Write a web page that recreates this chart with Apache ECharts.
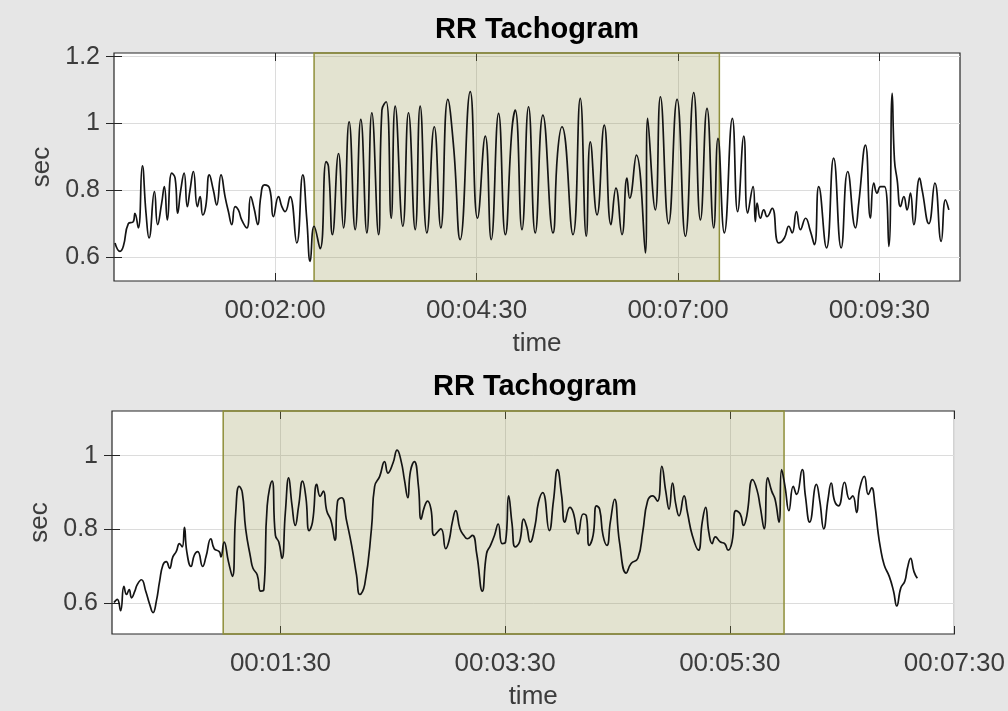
<!DOCTYPE html>
<html>
<head>
<meta charset="utf-8">
<script src="https://cdn.jsdelivr.net/npm/echarts@6/dist/echarts.min.js"></script>
<style>
html,body{margin:0;padding:0;background:#e6e6e6;}
#c{width:1008px;height:711px;}
</style>
</head>
<body>
<div id="c"></div>
<script>
// ---------- data (time in seconds, RR interval in sec) ----------
const topRR = [
[0.75,0.642],[4.47,0.617],[6.95,0.632],[10.68,0.70],[14.4,0.706],[15.6,0.731],[18.1,0.687],[21.1,0.873],
[23.85,0.731],[26.1,0.657],[30.1,0.796],[32.5,0.697],[35.5,0.761],[37.5,0.811],[39.7,0.711],[43,0.851],
[45.5,0.836],[47.4,0.731],[49.7,0.80],[52.2,0.851],[54.6,0.751],[56.6,0.80],[59.1,0.856],[62.1,0.751],
[64.1,0.781],[66.1,0.726],[68.3,0.751],[71,0.846],[74,0.80],[76.5,0.756],[79.7,0.846],[82.7,0.781],
[85.2,0.736],[87.7,0.697],[90.2,0.751],[92.6,0.741],[95.1,0.711],[98.9,0.687],[101.8,0.781],[104.3,0.746],
[107.1,0.697],[109.3,0.781],[112,0.816],[115.8,0.806],[118.7,0.721],[122.5,0.781],[125,0.751],[127.4,0.736],
[131.1,0.781],[136.1,0.642],[140.6,0.846],[143.6,0.711],[146.1,0.587],[149.0,0.692],[153.5,0.625],
[158,0.886],[159.7,0.871],[162.7,0.667],[167.2,0.91],[170.9,0.687],[175.1,1.005],[179.6,0.682],[183.8,1.012],
[188.3,0.672],[192.0,1.032],[197.0,0.667],[199.5,1.04],[202.7,1.065],[206.4,0.716],[209.4,1.052],[215.1,0.692],
[219.3,1.032],[224.3,0.682],[228.0,1.052],[233.0,0.672],[238.5,0.99],[243.4,0.687],[248.6,1.072],[252.9,0.93],
[257.8,0.652],[265.3,1.095],[270.7,0.716],[276.5,0.962],[280.9,0.652],[286.4,1.03],[291.4,0.667],[296.3,0.98],
[298.8,1.04],[303.8,0.682],[308.7,1.05],[313.7,0.672],[319.4,1.025],[326.9,0.672],[330.3,0.91],[333.6,0.99],
[341.8,0.667],[347.2,1.075],[351.7,0.662],[354.7,0.945],[359.7,0.726],[365.1,0.995],[370.1,0.697],[373.8,0.806],
[378.3,0.667],[382.0,0.836],[384.0,0.776],[389.0,0.905],[395.7,0.612],[397.4,1.015],[403.1,0.741],[406.9,1.08],
[413.0,0.70],[419.3,1.072],[425.5,0.662],[431.7,1.092],[436.7,0.711],[441.6,1.045],[446.6,0.687],[449.8,0.955],
[454.5,0.672],[460.5,1.015],[464.4,0.736],[469.0,0.962],[471.9,0.731],[475.9,0.811],[477.6,0.706],[478.9,0.761],
[481.4,0.716],[483.9,0.741],[486.3,0.721],[490.1,0.746],[495.0,0.642],[499.2,0.657],[502.5,0.692],[505.0,0.672],
[508.2,0.736],[511.2,0.682],[515.0,0.716],[518.6,0.677],[521.6,0.637],[524.8,0.811],[530.6,0.627],[535.9,0.896],
[541.5,0.627],[546.4,0.856],[552.2,0.687],[554.6,0.761],[559.6,0.935],[563.3,0.716],[565.8,0.821],[568.3,0.791],
[570.8,0.811],[573.8,0.811],[577.0,0.632],[579.5,1.09],[581.2,0.89],[583.2,0.831],[585.7,0.751],[588.2,0.781],
[590.6,0.741],[593.1,0.791],[595.6,0.697],[599.9,0.836],[601.8,0.80],[606.8,0.70],[611.3,0.821],[616.0,0.647],
[619.2,0.771],[621.7,0.741]
];
const bottomRR = [
[1.06,0.602],[2.83,0.611],[4.6,0.58],[6.36,0.646],[7.78,0.624],[9.19,0.637],[10.43,0.615],[12.2,0.633],
[13.43,0.65],[15.7,0.664],[18.03,0.633],[20.15,0.597],[21.92,0.575],[23.69,0.606],[25.45,0.66],[27.2,0.704],
[29,0.713],[30.75,0.695],[32.5,0.726],[34.3,0.74],[36.05,0.762],[37.5,0.753],[38.7,0.806],[39.95,0.74],
[42.2,0.70],[44,0.731],[45.8,0.74],[48.4,0.70],[50.2,0.726],[52.8,0.775],[54.6,0.748],[57.3,0.74],
[58.2,0.726],[59.9,0.766],[62.2,0.713],[64.3,0.673],[66.1,0.846],[67.9,0.917],[69.6,0.90],[71.4,0.802],
[74.1,0.722],[75.3,0.695],[77.6,0.677],[79.4,0.633],[81.1,0.637],[82.9,0.864],[85.5,0.931],[87.3,0.784],
[89.1,0.766],[90.8,0.722],[92.6,0.846],[94.4,0.94],[96.1,0.868],[97.9,0.811],[99.7,0.864],[101.8,0.931],
[103.6,0.886],[105.3,0.797],[107.1,0.82],[109.4,0.922],[111.2,0.89],[112.9,0.904],[114.7,0.851],[117,0.824],
[119.1,0.771],[120.5,0.877],[122.7,0.886],[125.3,0.824],[128,0.757],[130.6,0.677],[132.4,0.624],[135,0.651],
[138.6,0.802],[140.3,0.917],[143,0.944],[145.6,0.984],[147.4,0.953],[150.1,0.98],[152.3,1.015],[154.5,0.984],
[156.2,0.935],[158,0.886],[159.4,0.957],[161.5,0.984],[163.7,0.917],[165.1,0.828],[166.8,0.86],[168.6,0.877],
[170.4,0.855],[172.1,0.784],[175.7,0.802],[178.3,0.748],[180.1,0.771],[181.8,0.82],[183.6,0.851],[185.9,0.802],
[188,0.784],[189.8,0.775],[192.5,0.784],[194.8,0.735],[197.8,0.633],[200.1,0.735],[202.2,0.757],[204.3,0.784],
[206.3,0.815],[208.4,0.762],[210.2,0.766],[211.9,0.891],[213.7,0.815],[215.4,0.753],[217.7,0.766],[219.9,0.828],
[221.6,0.806],[223.4,0.766],[226,0.811],[227.8,0.873],[230.1,0.90],[233.6,0.797],[235.8,0.877],[238,0.962],
[240.2,0.891],[241.9,0.82],[244.6,0.86],[246.4,0.846],[249,0.788],[251.7,0.842],[253.4,0.837],[254.9,0.757],
[257,0.784],[258.8,0.864],[260.5,0.855],[262.3,0.784],[264.4,0.757],[266.2,0.82],[268.5,0.882],[271.1,0.766],
[274.7,0.682],[277.3,0.708],[280.9,0.722],[283.5,0.793],[286.1,0.877],[288.8,0.891],[291.4,0.877],[293.7,0.971],
[295.8,0.904],[297.6,0.855],[299.4,0.926],[301.2,0.868],[302.9,0.837],[305.6,0.891],[307.4,0.846],[310,0.784],
[313.2,0.744],[315.3,0.82],[317.1,0.86],[318.8,0.793],[320.6,0.762],[322.3,0.78],[325,0.766],[327.3,0.762],
[329.1,0.744],[331.2,0.766],[333.3,0.851],[335.6,0.842],[337.4,0.811],[339.1,0.837],[342.2,0.935],[344.5,0.908],
[346.2,0.864],[348.4,0.802],[350.3,0.94],[352.4,0.904],[354.2,0.882],[356.3,0.82],[357.7,0.962],[359.5,0.917],
[361.6,0.851],[363.9,0.917],[365.7,0.895],[368.7,0.962],[370.4,0.891],[372.7,0.82],[376.3,0.922],[378.1,0.877],
[380.2,0.802],[382.5,0.882],[384.2,0.926],[386,0.877],[388.1,0.864],[391.3,0.928],[394,0.882],[395.7,0.891],
[397.8,0.846],[399.3,0.908],[401.9,0.944],[404,0.895],[405.8,0.913],[407.6,0.864],[409,0.802],[410.4,0.753],
[412.5,0.704],[415.2,0.673],[417.5,0.633],[419.2,0.593],[421.4,0.642],[423.5,0.66],[424.9,0.695],[426.6,0.722],
[428.4,0.686],[430.2,0.668]
];
const topShade = [149.0, 450.8];
const bottomShade = [59.4, 359.0];
const topXTicks = [120, 270, 420, 570];
const bottomXTicks = [90, 210, 330, 450];
const topYTicks = [0.6, 0.8, 1.0, 1.2];
const bottomYTicks = [0.6, 0.8, 1.0];
const titles = ['RR Tachogram', 'RR Tachogram'];

// ---------- chart ----------
const FONT = '"Liberation Sans", Helvetica, Arial, sans-serif';
const pad = n => (n < 10 ? '0' : '') + n;
const fmtTime = s => {
  s = Math.round(s);
  return pad(Math.floor(s / 3600)) + ':' + pad(Math.floor((s % 3600) / 60)) + ':' + pad(s % 60);
};
const fmtY = v => String(Math.round(v * 10) / 10);
const AX = '#262626';
const GRIDC = '#dcdcdc';
const TXT = '#3c3c3c';

function xAxes(gi, max, ticks) {
  return [
    {
      type: 'value', gridIndex: gi, min: 0, max: max, position: 'bottom',
      axisLine: { show: false },
      axisTick: { show: true, inside: true, length: 8, customValues: ticks, lineStyle: { color: AX } },
      axisLabel: { customValues: ticks, formatter: fmtTime, fontSize: 26, fontFamily: FONT, color: TXT, margin: 17 },
      splitLine: { show: true, lineStyle: { color: GRIDC, width: 1 } },
      name: 'time', nameLocation: 'middle', nameGap: 50,
      nameTextStyle: { fontSize: 26, fontFamily: FONT, color: TXT }
    },
    {
      type: 'value', gridIndex: gi, min: 0, max: max, position: 'top',
      axisLine: { show: false },
      axisTick: { show: true, inside: true, length: 8, customValues: ticks, lineStyle: { color: AX } },
      axisLabel: { show: false },
      splitLine: { show: false }
    }
  ];
}
function yAxes(gi, min, max, ticks) {
  return [
    {
      type: 'value', gridIndex: gi, min: min, max: max, position: 'left',
      axisLine: { show: false },
      axisTick: { show: true, inside: true, length: 8, customValues: ticks, lineStyle: { color: AX } },
      axisLabel: { customValues: ticks, formatter: fmtY, fontSize: 25, fontFamily: FONT, color: TXT, margin: 14 },
      splitLine: { show: true, lineStyle: { color: GRIDC, width: 1 } },
      name: 'sec', nameLocation: 'middle', nameGap: 58, nameRotate: 90,
      nameTextStyle: { fontSize: 26, fontFamily: FONT, color: TXT }
    },
    {
      type: 'value', gridIndex: gi, min: min, max: max, position: 'right',
      axisLine: { show: false },
      axisTick: { show: true, inside: true, length: 8, customValues: ticks, lineStyle: { color: AX } },
      axisLabel: { show: false },
      splitLine: { show: false }
    }
  ];
}
function lineSeries(xi, yi, data, shade) {
  return {
    type: 'line', xAxisIndex: xi, yAxisIndex: yi, data: data,
    showSymbol: false, smooth: 0.5, animation: false,
    lineStyle: { color: '#141414', width: 1.7 },
    markArea: {
      silent: true,
      itemStyle: { color: 'rgba(143,143,67,0.25)', borderColor: '#8f8f3a', borderWidth: 1.5 },
      data: [[{ xAxis: shade[0] }, { xAxis: shade[1] }]]
    }
  };
}

const chart = echarts.init(document.getElementById('c'), null, { renderer: 'canvas' });
chart.setOption({
  backgroundColor: '#e6e6e6',
  animation: false,
  grid: [
    { left: 114, top: 53, width: 846, height: 228, show: true, backgroundColor: '#ffffff', borderColor: AX, borderWidth: 1.2 },
    { left: 112, top: 411, width: 845, height: 226, show: true, backgroundColor: '#ffffff', borderColor: AX, borderWidth: 1.2 }
  ],
  graphic: [
    { type: 'text', x: 537, y: 15, style: { text: titles[0], font: 'bold 29px ' + FONT, fill: '#000', align: 'center', verticalAlign: 'top' } },
    { type: 'text', x: 535, y: 372, style: { text: titles[1], font: 'bold 29px ' + FONT, fill: '#000', align: 'center', verticalAlign: 'top' } }
  ],
  xAxis: [].concat(xAxes(0, 630, topXTicks), xAxes(1, 450, bottomXTicks)),
  yAxis: [].concat(yAxes(0, 0.528, 1.211, topYTicks), yAxes(1, 0.517, 1.121, bottomYTicks)),
  series: [
    lineSeries(0, 0, topRR, topShade),
    lineSeries(2, 2, bottomRR, bottomShade)
  ]
});
</script>
</body>
</html>
